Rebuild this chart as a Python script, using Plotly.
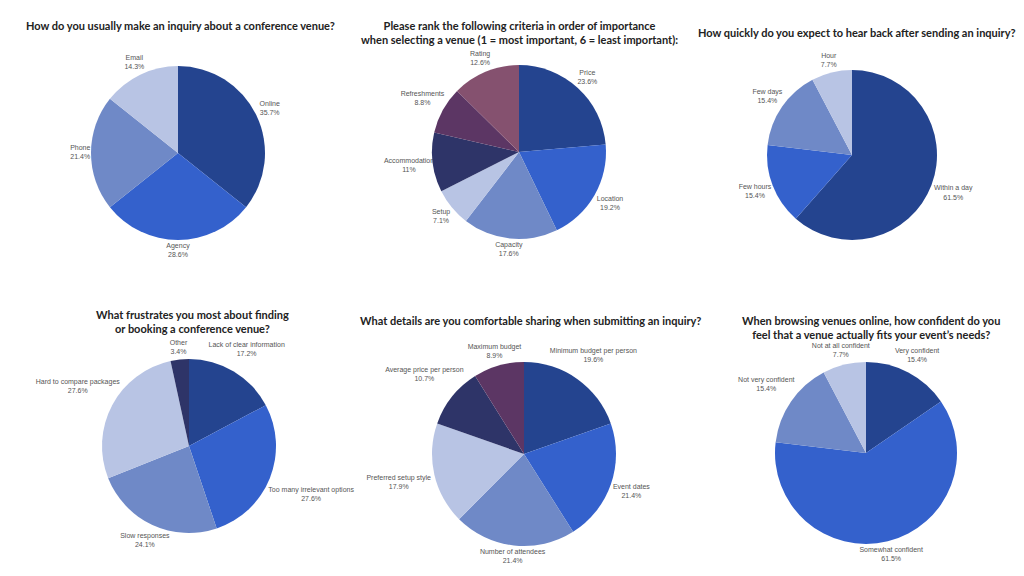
import math
import plotly.graph_objects as go

W, H = 1024, 576

DARK = "#24448F"
BRIGHT = "#3461CC"
MED = "#6F89C7"
LIGHT = "#B8C4E4"
NAVY = "#2E3468"
PURPLE = "#5C3664"
MAUVE = "#85516F"

# ---- data ----
q1_title = "How do you usually make an inquiry about a conference venue?"
q1_labels = ["Online", "Agency", "Phone", "Email"]
q1_values = [35.7, 28.6, 21.4, 14.3]
q1_colors = [DARK, BRIGHT, MED, LIGHT]

q2_title = "Please rank the following criteria in order of importance<br>when selecting a venue (1 = most important, 6 = least important):"
q2_labels = ["Price", "Location", "Capacity", "Setup", "Accommodation", "Refreshments", "Rating"]
q2_values = [23.6, 19.2, 17.6, 7.1, 11, 8.8, 12.6]
q2_colors = [DARK, BRIGHT, MED, LIGHT, NAVY, PURPLE, MAUVE]

q3_title = "How quickly do you expect to hear back after sending an inquiry?"
q3_labels = ["Within a day", "Few hours", "Few days", "Hour"]
q3_values = [61.5, 15.4, 15.4, 7.7]
q3_colors = [DARK, BRIGHT, MED, LIGHT]

q4_title = "What frustrates you most about finding<br>or booking a conference venue?"
q4_labels = ["Lack of clear information", "Too many irrelevant options", "Slow responses",
             "Hard to compare packages", "Other"]
q4_values = [17.2, 27.6, 24.1, 27.6, 3.4]
q4_colors = [DARK, BRIGHT, MED, LIGHT, NAVY]

q5_title = "What details are you comfortable sharing when submitting an inquiry?"
q5_labels = ["Minimum budget per person", "Event dates", "Number of attendees",
             "Preferred setup style", "Average price per person", "Maximum budget"]
q5_values = [19.6, 21.4, 21.4, 17.9, 10.7, 8.9]
q5_colors = [DARK, BRIGHT, MED, LIGHT, NAVY, PURPLE]

q6_title = "When browsing venues online, how confident do you<br>feel that a venue actually fits your event\u2019s needs?"
q6_labels = ["Very confident", "Somewhat confident", "Not very confident", "Not at all confident"]
q6_values = [15.4, 61.5, 15.4, 7.7]
q6_colors = [DARK, BRIGHT, MED, LIGHT]

# ---- layout: (center x px, center y px, radius px), (title x px, title y px) ----
panels = [
    (q1_title, q1_labels, q1_values, q1_colors, (178, 153, 87), (180, 25)),
    (q2_title, q2_labels, q2_values, q2_colors, (519, 152, 87), (519, 32)),
    (q3_title, q3_labels, q3_values, q3_colors, (852, 155, 85), (857, 32)),
    (q4_title, q4_labels, q4_values, q4_colors, (189, 446, 87), (192, 321)),
    (q5_title, q5_labels, q5_values, q5_colors, (524, 454, 92), (530, 320)),
    (q6_title, q6_labels, q6_values, q6_colors, (866, 453, 91), (871, 327)),
]

LABEL_SIZE = 7
CHAR_W = 3.1      # approx px per character at LABEL_SIZE
HALF_H = 8.0      # half height of a two-line label, px
GAP = 3.0         # gap between pie edge and label box, px

label_font = dict(family="Liberation Sans, Arial, sans-serif", size=LABEL_SIZE, color="#555555")


def label_radius(theta_deg, text_lines, r):
    """Distance (px) from the pie centre to the label centre so that the label
    box sits just outside the pie along the slice's mid-angle."""
    ux = abs(math.sin(math.radians(theta_deg)))
    uy = abs(math.cos(math.radians(theta_deg)))
    a = max(len(t) for t in text_lines) * CHAR_W / 2
    b = HALF_H
    target = r + GAP
    lo, hi = 0.0, 4 * r
    for _ in range(60):
        d = (lo + hi) / 2
        px = max(d * ux - a, 0.0)
        py = max(d * uy - b, 0.0)
        if math.hypot(px, py) < target:
            lo = d
        else:
            hi = d
    return (lo + hi) / 2


fig = go.Figure()
annotations = []
for i, (title, labels, values, colors, (cx, cy, r), (tx, ty)) in enumerate(panels):
    dom = dict(x=[(cx - r) / W, (cx + r) / W],
               y=[(H - cy - r) / H, (H - cy + r) / H])
    fig.add_trace(go.Pie(
        labels=labels,
        values=values,
        sort=False,
        direction="clockwise",
        rotation=0,
        marker=dict(colors=colors, line=dict(width=0)),
        textinfo="none",
        showlegend=False,
        hoverinfo="label+value",
        domain=dom,
    ))

    # outside labels along each slice's mid-angle (0 deg at top, clockwise),
    # drawn on a full-page pixel-unit cartesian layer
    total = sum(values)
    xs, ys, texts = [], [], []
    cum = 0.0
    for lab, v in zip(labels, values):
        mid = 360.0 * (cum + v / 2) / total
        cum += v
        pct = f"{v:g}%"
        d = label_radius(mid, [lab, pct], r)
        xs.append(cx + d * math.sin(math.radians(mid)))
        ys.append(cy - d * math.cos(math.radians(mid)))
        texts.append(f"{lab}<br>{pct}")
    fig.add_trace(go.Scatter(
        x=xs, y=ys, text=texts, mode="text",
        textposition="middle center", textfont=label_font,
        cliponaxis=False, showlegend=False, hoverinfo="skip",
    ))

    annotations.append(dict(
        text="<b>" + title.replace("<br>", "</b><br><b>") + "</b>",
        x=tx / W, y=1 - ty / H, xref="paper", yref="paper",
        xanchor="center", yanchor="middle", showarrow=False,
        font=dict(family="Lato, Open Sans, sans-serif", size=11, color="#222222"),
        align="center",
    ))

fig.update_layout(
    width=W, height=H,
    margin=dict(l=0, r=0, t=0, b=0),
    paper_bgcolor="white",
    plot_bgcolor="rgba(0,0,0,0)",
    annotations=annotations,
    xaxis=dict(range=[0, W], visible=False, fixedrange=True),
    yaxis=dict(range=[H, 0], visible=False, fixedrange=True),
)

fig.write_html(
    "out.html",
    config={"displayModeBar": False},
    post_script="document.body.style.margin='0';document.body.style.padding='0';document.body.style.overflow='hidden';",
)
